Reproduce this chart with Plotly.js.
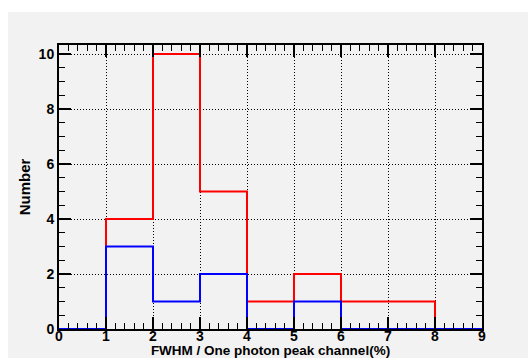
<!DOCTYPE html>
<html>
<head>
<meta charset="utf-8">
<script src="https://cdn.plot.ly/plotly-3.0.1.min.js"></script>
<style>html,body{margin:0;padding:0;background:#fff;}#chart{width:528px;height:358px;}</style>
</head>
<body>
<div id="chart"></div>
<script>
// Bin edges and counts (histograms)
const binEdges = [0, 1, 2, 3, 4, 5, 6, 7, 8, 9];
const redCounts = [0, 4, 10, 5, 1, 2, 1, 1, 0];
const blueCounts = [0, 3, 1, 2, 0, 1, 0, 0, 0];
const xTickLabels = ['0','1','2','3','4','5','6','7','8','9'];
const yTickVals = [0, 2, 4, 6, 8, 10];
const xTitle = "FWHM / One photon peak channel(%)";
const yTitle = "Number";

function stepY(counts) { return counts.concat([counts[counts.length - 1]]); }
const bold = s => '<b>' + s + '</b>';

const W = 528, H = 358;
const M = {l: 59, r: 46, t: 45, b: 29};
const pw = W - M.l - M.r, ph = H - M.t - M.b;
const px = v => (v - M.l) / pw;
const py = v => 1 - (v - M.t) / ph;

const traces = [
  {x: binEdges, y: stepY(redCounts), type: 'scatter', mode: 'lines',
   line: {shape: 'hv', color: '#ff0000', width: 2}, hoverinfo: 'skip'},
  {x: binEdges, y: stepY(blueCounts), type: 'scatter', mode: 'lines',
   line: {shape: 'hv', color: '#0000ff', width: 2}, hoverinfo: 'skip'}
];

const font = {family: 'Liberation Sans, Arial, sans-serif', color: '#000'};
const layout = {
  width: W, height: H,
  margin: M,
  showlegend: false,
  paper_bgcolor: '#ffffff',
  plot_bgcolor: '#f2f2f2',
  font: font,
  xaxis: {
    range: [0, 9], tickvals: binEdges, ticktext: xTickLabels.map(bold),
    ticks: 'inside', ticklen: 12, tickwidth: 2, tickcolor: '#000',
    minor: {dtick: 0.2, ticks: 'inside', ticklen: 6, tickwidth: 1, tickcolor: '#000', showgrid: false},
    showline: true, linecolor: '#000', linewidth: 2, mirror: 'ticks',
    showgrid: true, gridcolor: '#000', griddash: '1px,2px', gridwidth: 1,
    zeroline: false,
    tickfont: {size: 14},
    ticklabelstandoff: -7,
    title: {text: bold(xTitle), font: {size: 13.5}, standoff: 11}
  },
  yaxis: {
    range: [0, 10.33], tickvals: yTickVals, ticktext: yTickVals.map(v => bold(String(v))),
    ticks: 'inside', ticklen: 12, tickwidth: 2, tickcolor: '#000',
    minor: {dtick: 0.5, ticks: 'inside', ticklen: 6, tickwidth: 1, tickcolor: '#000', showgrid: false},
    showline: true, linecolor: '#000', linewidth: 2, mirror: 'ticks',
    showgrid: true, gridcolor: '#000', griddash: '1px,2px', gridwidth: 1,
    zeroline: false,
    tickfont: {size: 14},
    title: {text: bold(yTitle), font: {size: 15}, standoff: 4}
  },
  shapes: [
    {type: 'rect', xref: 'paper', yref: 'paper', layer: 'below',
     x0: px(8), x1: px(W), y0: py(H), y1: py(12),
     fillcolor: '#f2f2f2', line: {width: 0}}
  ]
};

Plotly.newPlot('chart', traces, layout, {staticPlot: true, displayModeBar: false});
</script>
</body>
</html>
